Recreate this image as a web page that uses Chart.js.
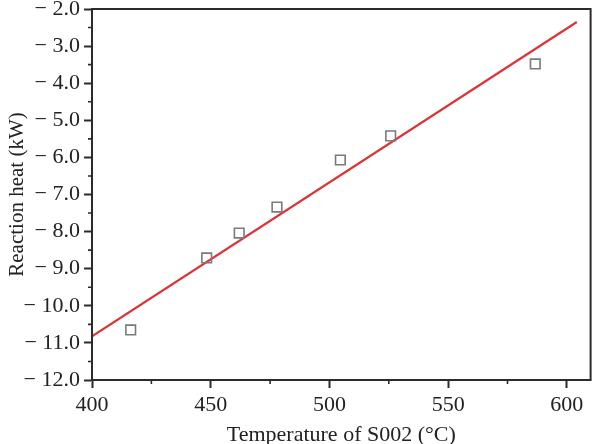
<!DOCTYPE html>
<html>
<head>
<meta charset="utf-8">
<script src="https://cdn.jsdelivr.net/npm/chart.js@4.4.1/dist/chart.umd.min.js"></script>
<style>
  html, body { margin: 0; padding: 0; background: #fff; }
  #wrap { width: 599px; height: 444px; position: relative; }
</style>
</head>
<body>
<div id="wrap"><canvas id="myChart"></canvas></div>
<script>
// points mesures
let temps = [416.3, 448.3, 462.0, 477.9, 504.6, 525.8, 586.7]
let heat = [-10.65, -8.71, -8.04, -7.34, -6.07, -5.42, -3.48]
// droite de regression
let fitX = [400, 604.2]
let fitY = [-10.82, -2.35]

const axisColor = '#2b2b2b'
const serif = "'Liberation Serif', 'DejaVu Serif', serif"

// cadre + petites graduations
const cadre = {
  id: 'cadre',
  afterDraw(chart) {
    const { ctx, chartArea: a, scales } = chart
    ctx.save()
    ctx.strokeStyle = axisColor
    ctx.lineWidth = 2
    ctx.strokeRect(a.left, a.top, a.right - a.left, a.bottom - a.top)
    ctx.lineWidth = 1.6
    ctx.beginPath()
    for (let v = -11.5; v < -1.99; v += 1) {
      const y = scales.y.getPixelForValue(v)
      ctx.moveTo(a.left - 4, y); ctx.lineTo(a.left, y)
    }
    for (let v = 425; v < 610; v += 50) {
      const x = scales.x.getPixelForValue(v)
      ctx.moveTo(x, a.bottom); ctx.lineTo(x, a.bottom + 4)
    }
    ctx.stroke()
    ctx.restore()
  }
}

const ctx = document.getElementById('myChart')
new Chart(ctx, {
  type: 'scatter',
  data: {
    datasets: [
      {
        label: 'Reaction heat',
        data: temps.map((t, i) => ({ x: t, y: heat[i] })),
        pointStyle: 'rect',
        pointRadius: 6.8,
        pointBorderWidth: 1.6,
        borderColor: '#7a7a7a',
        backgroundColor: 'rgba(255,255,255,0)',
      },
      {
        type: 'line',
        label: 'fit',
        data: fitX.map((t, i) => ({ x: t, y: fitY[i] })),
        borderColor: '#dc3338',
        borderWidth: 2.2,
        pointRadius: 0,
        fill: false,
      },
    ],
  },
  options: {
    responsive: true,
    maintainAspectRatio: false,
    animation: false,
    layout: { padding: { top: 9, right: 2, left: 0, bottom: 0 } },
    plugins: {
      legend: { display: false },
      tooltip: { enabled: false },
    },
    scales: {
      x: {
        type: 'linear',
        min: 400,
        max: 610,
        afterFit: (s) => { s.height = 64; s.paddingLeft = 0; s.paddingRight = 0 },
        ticks: {
          stepSize: 50,
          includeBounds: false,
          padding: 4,
          color: '#222',
          font: { family: serif, size: 22 },
        },
        grid: { drawOnChartArea: false, drawTicks: true, tickLength: 8, tickWidth: 2, tickColor: axisColor },
        border: { display: true, color: axisColor, width: 2 },
        title: {
          display: true,
          text: 'Temperature of S002 (°C)',
          color: '#222',
          font: { family: serif, size: 22 },
          padding: { top: 0, bottom: -4 },
        },
      },
      y: {
        type: 'linear',
        min: -12,
        max: -2,
        afterFit: (s) => { s.width = 92; s.paddingTop = 0; s.paddingBottom = 0 },
        ticks: {
          stepSize: 1,
          padding: 4,
          color: '#222',
          font: { family: serif, size: 22 },
          callback: (v) => '\u2212 ' + Math.abs(v).toFixed(1),
        },
        grid: { drawOnChartArea: false, drawTicks: true, tickLength: 8, tickWidth: 2, tickColor: axisColor },
        border: { display: true, color: axisColor, width: 2 },
        title: {
          display: true,
          text: 'Reaction heat (kW)',
          color: '#222',
          font: { family: serif, size: 21 },
          padding: { top: 5, bottom: 0 },
        },
      },
    },
  },
  plugins: [cadre],
})
</script>
</body>
</html>
